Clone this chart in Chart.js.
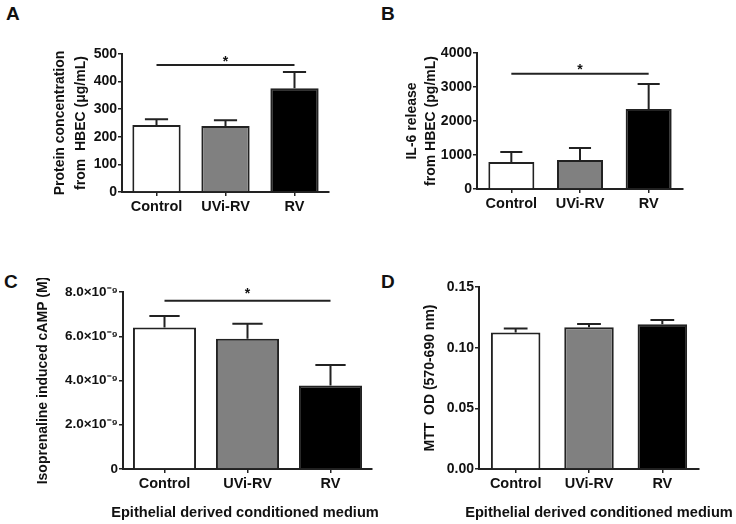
<!DOCTYPE html>
<html>
<head>
<meta charset="utf-8">
<script src="https://cdn.jsdelivr.net/npm/chart.js@4.4.1/dist/chart.umd.min.js"></script>
<style>
  body { margin: 0; background: #fff; }
  #wrap { position: relative; width: 736px; height: 524px; overflow: hidden; }
  canvas { position: absolute; }
  .lbl { position: absolute; font: bold 19px "Liberation Sans", Arial, sans-serif; color: #111; line-height: 20px; }
  .xt { position: absolute; font: bold 14.6px "Liberation Sans", Arial, sans-serif; color: #111; line-height: 18px; white-space: nowrap; transform: translateX(-50%); }
</style>
</head>
<body>
<div id="wrap">
  <div class="lbl" style="left:6px;top:4px">A</div>
  <div class="lbl" style="left:381px;top:4px">B</div>
  <div class="lbl" style="left:4px;top:272px">C</div>
  <div class="lbl" style="left:381px;top:272px">D</div>
  <canvas id="chartA" width="286" height="182" style="left:49px;top:40px"></canvas>
  <canvas id="chartB" width="287" height="180" style="left:402px;top:39px"></canvas>
  <canvas id="chartC" width="343" height="243" style="left:35px;top:278px"></canvas>
  <canvas id="chartD" width="283" height="248" style="left:422px;top:273px"></canvas>
  <div class="xt" style="left:245px;top:503px">Epithelial derived conditioned medium</div>
  <div class="xt" style="left:599px;top:503px">Epithelial derived conditioned medium</div>
</div>
<script>
// categories shared by all panels
const groups = ["Control", "UVi-RV", "RV"];
const barColors = ["#ffffff", "#808080", "#000000"];

// A: protein concentration (ug/mL), mean and SEM
const proteinMean = [243, 239, 376];
const proteinSem = [21, 21, 59];

// B: IL-6 release (pg/mL)
const il6Mean = [794, 853, 2353];
const il6Sem = [294, 353, 735];

// C: isoprenaline induced cAMP (M)
const campMean = [6.39e-9, 5.89e-9, 3.77e-9];
const campSem = [0.53e-9, 0.68e-9, 0.93e-9];

// D: MTT OD
const mttMean = [0.1125, 0.1168, 0.1193];
const mttSem = [0.0033, 0.0028, 0.0036];

Chart.defaults.font.family = '"Liberation Sans", Arial, sans-serif';
Chart.defaults.font.weight = 'bold';
Chart.defaults.font.size = 14;
Chart.defaults.color = '#111';
Chart.defaults.animation = false;

const ink = '#222';

// error bars (upward only) + significance line
const extras = {
    id: 'extras',
    afterDatasetsDraw(chart, args, opts) {
        const ctx = chart.ctx;
        const ds = chart.data.datasets[0];
        const meta = chart.getDatasetMeta(0);
        const y = chart.scales.y;
        ctx.save();
        ctx.strokeStyle = ink;
        ctx.lineWidth = 2;
        meta.data.forEach((bar, i) => {
            const p = bar.getProps(['x', 'y', 'width'], true);
            const top = y.getPixelForValue(ds.data[i] + ds.errors[i]);
            const half = p.width * 0.24;
            ctx.beginPath();
            ctx.moveTo(p.x, p.y);
            ctx.lineTo(p.x, top);
            ctx.moveTo(p.x - half, top);
            ctx.lineTo(p.x + half, top);
            ctx.stroke();
        });
        if (opts.sig) {
            const x = chart.scales.x;
            const x0 = x.getPixelForValue(opts.sig.from);
            const x1 = x.getPixelForValue(opts.sig.to);
            const yy = y.getPixelForValue(opts.sig.value);
            ctx.beginPath();
            ctx.moveTo(x0, yy);
            ctx.lineTo(x1, yy);
            ctx.stroke();
            ctx.fillStyle = '#111';
            ctx.font = 'bold 14px "Liberation Sans", Arial, sans-serif';
            ctx.textAlign = 'center';
            ctx.textBaseline = 'alphabetic';
            ctx.fillText('*', (x0 + x1) / 2, yy + opts.sig.starDy);
        }
        ctx.restore();
    }
};

function makePanel(id, mean, sem, cfg) {
    return new Chart(document.getElementById(id), {
        type: 'bar',
        data: {
            labels: groups,
            datasets: [{
                data: mean,
                errors: sem,
                backgroundColor: barColors,
                borderColor: ink,
                borderWidth: 2,
                barPercentage: cfg.barPct,
                categoryPercentage: 1
            }]
        },
        options: {
            responsive: false,
            devicePixelRatio: 1,
            layout: { padding: { top: 14, right: 6, left: 0, bottom: 0 } },
            plugins: {
                legend: { display: false },
                tooltip: { enabled: false },
                extras: { sig: cfg.sig }
            },
            scales: {
                x: {
                    grid: { display: true, drawOnChartArea: false, offset: false, tickLength: 4, color: ink, lineWidth: 1.5 },
                    border: { color: ink, width: 2 },
                    ticks: { padding: 2, font: { size: 14.5 }, color: '#111' },
                    afterFit(s) { s.height = cfg.xh; }
                },
                y: {
                    min: 0,
                    max: cfg.max,
                    grid: { display: true, drawOnChartArea: false, tickLength: 4, color: ink, lineWidth: 1.5 },
                    border: { color: ink, width: 2 },
                    ticks: { stepSize: cfg.step, padding: 1, font: { size: cfg.tickSize || 14 }, color: '#111', callback: cfg.fmt },
                    title: { display: true, text: cfg.yTitle, padding: 0, font: { size: 14, lineHeight: cfg.lh || 1.2 }, color: '#111' },
                    afterFit(s) { s.width = cfg.yw; }
                }
            }
        },
        plugins: [extras]
    });
}

makePanel('chartA', proteinMean, proteinSem, {
    barPct: 0.70, max: 500, step: 100, yw: 73, xh: 30, lh: 1.55,
    yTitle: ['Protein concentration', 'from  HBEC (\u03bcg/mL)'],
    fmt: v => String(v),
    sig: { from: 0, to: 2, value: 460, starDy: 1 }
});

makePanel('chartB', il6Mean, il6Sem, {
    barPct: 0.67, max: 4000, step: 1000, yw: 75, xh: 30, lh: 1.4,
    yTitle: ['IL-6 release', 'from HBEC (pg/mL)'],
    fmt: v => String(v),
    sig: { from: 0, to: 2, value: 3390, starDy: 0 }
});

makePanel('chartC', campMean, campSem, {
    barPct: 0.76, max: 8e-9, step: 2e-9, yw: 88, xh: 52, tickSize: 13.5,
    yTitle: 'Isoprenaline induced cAMP (M)',
    fmt: v => v === 0 ? '0' : (v * 1e9).toFixed(1) + '\u00d710\u207b\u2079',
    sig: { from: 0, to: 2, value: 7.61e-9, starDy: -3 }
});

makePanel('chartD', mttMean, mttSem, {
    barPct: 0.675, max: 0.15, step: 0.05, yw: 57, xh: 52,
    yTitle: 'MTT  OD (570-690 nm)',
    fmt: v => v.toFixed(2),
    sig: null
});
</script>
</body>
</html>
